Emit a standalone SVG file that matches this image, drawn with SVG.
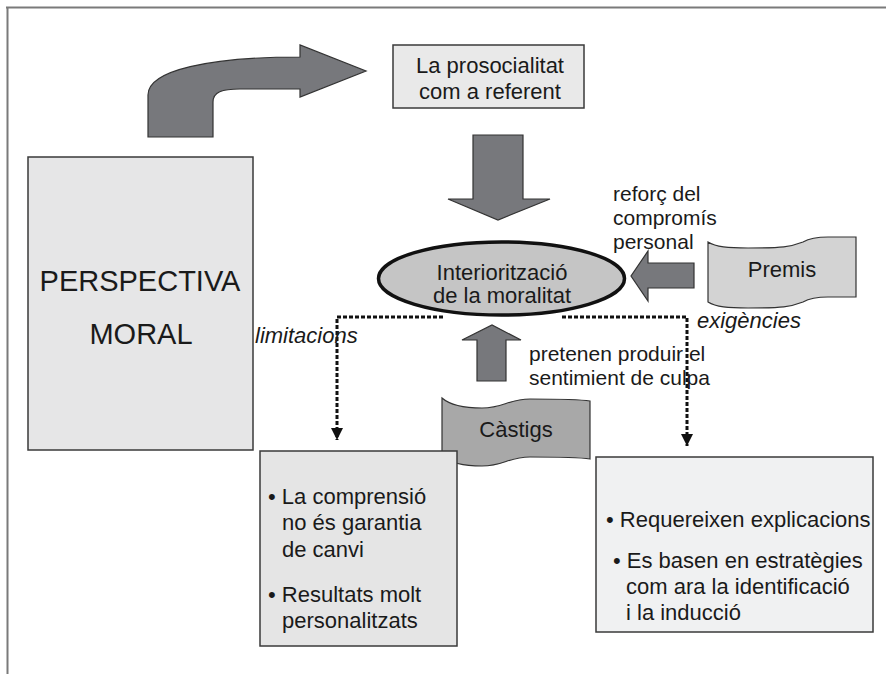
<svg xmlns="http://www.w3.org/2000/svg" width="886" height="674" viewBox="0 0 886 674">
<style>
  .t { font-family: "Liberation Sans", Arial, sans-serif; font-size: 22px; fill: #1a1a1a; }
  .s { font-size: 21px; }
  .c { text-anchor: middle; }
  .i { font-style: italic; }
  .box { stroke: #3a3a3a; stroke-width: 1.5; }
  .bigarrow { fill: #77787c; stroke: #333; stroke-width: 1.2; stroke-linejoin: miter; }
  .dot { fill: none; stroke: #111; stroke-width: 3; stroke-dasharray: 4 2; }
  .frame { stroke: #7a7a7a; stroke-width: 2; fill: none; }
</style>
<defs>
  <marker id="ah" viewBox="0 0 10 10" refX="10" refY="5" markerWidth="4" markerHeight="4" orient="auto" markerUnits="strokeWidth">
    <path d="M0,0 L10,5 L0,10 Z" fill="#111"/>
  </marker>
</defs>
<rect width="886" height="674" fill="#ffffff"/>
<g id="frame">
  <path class="frame" d="M6,7.5 L886,7.5 M7.5,7 L7.5,674"/>
</g>

<g id="perspectiva-moral">
  <rect class="box" x="28" y="157" width="225" height="293" fill="#e6e6e7"/>
  <text class="t c" x="140" y="291" style="font-size:29px">PERSPECTIVA</text>
  <text class="t c" x="141" y="344" style="font-size:29px">MORAL</text>
</g>

<g id="prosocialitat">
  <rect class="box" x="393" y="45" width="191" height="63" fill="#e9e9e9"/>
  <text class="t c" x="490" y="73">La prosocialitat</text>
  <text class="t c" x="490" y="99">com a referent</text>
</g>

<g id="connectors">
  <path id="curved-arrow" class="bigarrow" d="M148,137 L148,95 C148,70 210,57 300,57 L300,45 L366,71 L300,97 L300,89 L240,89 C222,89 213,92 213,102 L213,137 Z"/>
  <path id="down-arrow" class="bigarrow" d="M473,135 L523,135 L523,199 L550,199 L498,220 L448,199 L473,199 Z"/>
  <path id="left-arrow" class="bigarrow" d="M694,263 L648,263 L648,251 L631,276 L648,301 L648,288 L694,288 Z"/>
  <path id="up-arrow" class="bigarrow" d="M477,381 L477,340 L462,340 L492,325 L521,340 L506,340 L506,381 Z"/>
  <path class="dot" d="M443,317 L337,317 L337,440" marker-end="url(#ah)"/>
  <path class="dot" d="M562,317 L687,317 L687,446" marker-end="url(#ah)"/>
</g>

<g id="interioritzacio">
  <ellipse cx="501.5" cy="278.5" rx="123" ry="36.5" fill="#c5c5c5" stroke="#111" stroke-width="3.5"/>
  <text class="t c" x="502" y="280">Interiorització</text>
  <text class="t c" x="502" y="303">de la moralitat</text>
</g>

<g id="premis">
  <path transform="translate(708,242)" d="M0,0 C8,5 20,6 40,6 C75,6 82,5 95,0 C102,-4 110,-5 120,-5 L148,-5 L148,55 L120,55 C110,55 102,56 95,60 C82,65 75,66 40,66 C20,66 8,65 0,60 Z" fill="#d3d3d3" stroke="#333" stroke-width="1.2"/>
  <text class="t c" x="782" y="277">Premis</text>
</g>

<g id="castigs">
  <path transform="translate(442,398)" d="M0,0 C8,7 22,10 40,10 C62,10 66,1 88,1 C110,1 135,1 148,3 L148,61 C135,59 110,59 88,59 C66,59 62,68 40,68 C22,68 8,65 0,58 Z" fill="#a8a8a8" stroke="#333" stroke-width="1.2"/>
  <text class="t c" x="516" y="437">Càstigs</text>
</g>

<g id="labels">
  <text class="t s" x="613" y="201">reforç del</text>
  <text class="t s" x="613" y="225">compromís</text>
  <text class="t s" x="613" y="249">personal</text>
  <text class="t i" x="255" y="343">limitacions</text>
  <text class="t i" x="697" y="328">exigències</text>
  <text class="t s" x="529" y="361">pretenen produir el</text>
  <text class="t s" x="529" y="385">sentimient de culpa</text>
</g>

<g id="limitacions-box">
  <rect class="box" x="260" y="451" width="197" height="195" fill="#e5e5e5"/>
  <text class="t" x="268" y="504">• La comprensió</text>
  <text class="t" x="282" y="530">no és garantia</text>
  <text class="t" x="282" y="557">de canvi</text>
  <text class="t" x="268" y="602">• Resultats molt</text>
  <text class="t" x="282" y="628">personalitzats</text>
</g>

<g id="exigencies-box">
  <rect class="box" x="596" y="457" width="277" height="175" fill="#f0f1f2"/>
  <text class="t" x="606" y="527">• Requereixen explicacions</text>
  <text class="t" x="613" y="568">• Es basen en estratègies</text>
  <text class="t" x="626" y="594">com ara la identificació</text>
  <text class="t" x="626" y="620">i la inducció</text>
</g>
</svg>
